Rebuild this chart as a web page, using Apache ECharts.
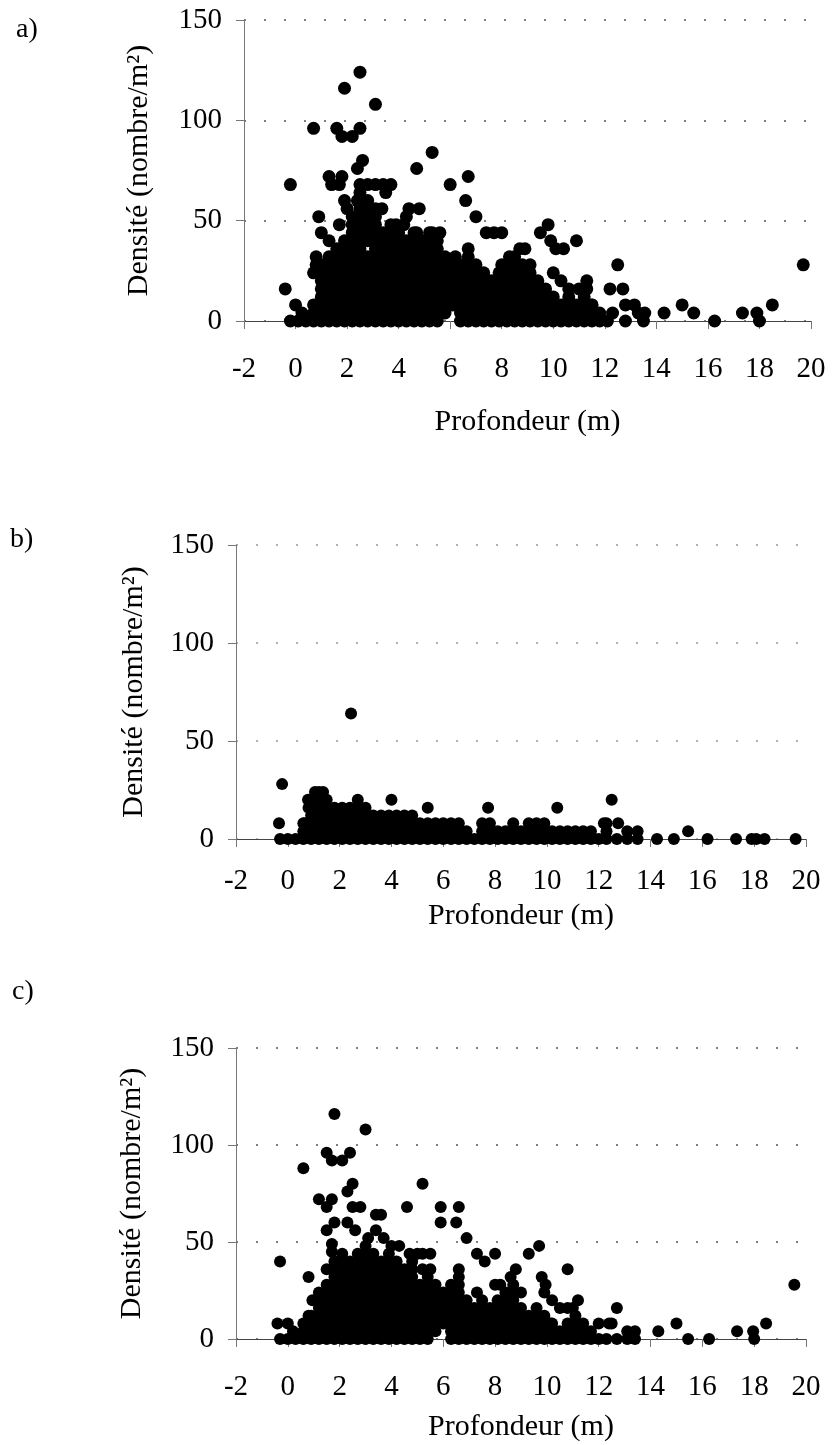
<!DOCTYPE html>
<html>
<head>
<meta charset="utf-8">
<script src="https://cdn.jsdelivr.net/npm/echarts@6/dist/echarts.min.js"></script>
<style>
  html, body { margin: 0; padding: 0; background: #fff; }
  #main { width: 832px; height: 1445px; }
</style>
</head>
<body>
<div id="main"></div>
<script>
// tick labels / axis ranges
var xTicks = [-2, 0, 2, 4, 6, 8, 10, 12, 14, 16, 18, 20];
var yTicks = [0, 50, 100, 150];

// a) dense core: [profondeur, [densités...]]
var colsA = [
    [-0.2, [0]], [0.1, [0]], [0.4, [0]], [0.7, [0, 4, 8]],
    [1.0, [0, 4, 8, 12, 16, 20, 24, 28]],
    [1.3, [0, 4, 8, 12, 16, 20, 24, 28, 32]],
    [1.6, [0, 4, 8, 12, 16, 20, 24, 28, 32, 36]],
    [1.9, [0, 4, 8, 12, 16, 20, 24, 28, 32, 36, 40]],
    [2.2, [0, 4, 8, 12, 16, 20, 24, 28, 32, 36, 40, 44, 48, 52]],
    [2.5, [0, 4, 8, 12, 16, 20, 24, 28, 32, 36, 40, 44, 48, 52, 56]],
    [2.8, [0, 4, 8, 12, 16, 20, 24, 28, 32, 40, 44, 48, 52, 56, 60]],
    [3.1, [0, 4, 8, 12, 16, 20, 24, 28, 32, 36, 40, 44, 48, 52, 56]],
    [3.4, [0, 4, 8, 12, 16, 20, 24, 28, 32, 36, 40, 44]],
    [3.7, [0, 4, 8, 12, 16, 20, 24, 28, 32, 36, 40, 44, 48]],
    [4.0, [0, 4, 8, 12, 16, 20, 24, 28, 32, 36, 44]],
    [4.3, [0, 4, 8, 12, 16, 20, 24, 28, 32, 36, 40]],
    [4.6, [0, 4, 8, 12, 16, 20, 24, 28, 32, 36, 40, 44]],
    [4.9, [0, 4, 8, 12, 16, 20, 24, 28, 32, 36, 40]],
    [5.2, [0, 4, 8, 12, 16, 20, 24, 28, 32, 36, 40, 44]],
    [5.5, [0, 4, 8, 12, 16, 20, 24, 28, 32, 36, 40]],
    [5.8, [4, 8, 12, 16, 20, 24, 28]],
    [6.1, [8, 12, 16, 20, 24, 28]],
    [6.4, [0, 4, 8, 12, 16, 20, 24, 28]],
    [6.7, [0, 4, 8, 12, 16, 20, 24, 28, 32]],
    [7.0, [0, 4, 8, 12, 16, 20, 24]],
    [7.3, [0, 4, 8, 12, 16, 20]],
    [7.6, [0, 4, 8, 12, 16]],
    [7.9, [0, 4, 8, 12, 16, 20, 24]],
    [8.2, [0, 4, 8, 12, 16, 20, 24, 28]],
    [8.5, [0, 4, 8, 12, 16, 20, 24, 28, 32]],
    [8.8, [0, 4, 8, 12, 16, 20, 24, 28]],
    [9.1, [0, 4, 8, 12, 16, 20, 24]],
    [9.4, [0, 4, 8, 12, 16, 20]],
    [9.7, [0, 4, 8, 12, 16]],
    [10.0, [0, 4, 8, 12]],
    [10.3, [0, 4, 8]],
    [10.6, [0, 4, 8, 12]],
    [10.9, [0, 4, 8]],
    [11.2, [0, 4, 8, 12]],
    [11.5, [0, 4, 8]],
    [11.8, [0, 4]],
    [12.1, [0]]
];
// a) scattered points
var extraA = [
    [-0.4, 16], [-0.2, 68], [0.0, 8], [0.25, 4], [0.7, 96], [0.8, 32], [0.8, 28], [0.7, 24],
    [0.8, 8], [0.9, 52], [1.0, 44], [1.3, 40], [1.3, 72], [1.4, 68], [1.6, 96], [1.7, 48],
    [1.7, 68], [1.8, 72], [1.8, 92], [1.9, 116], [1.9, 60], [2.0, 56], [2.2, 92], [2.4, 76],
    [2.5, 96], [2.5, 124], [2.6, 80], [2.5, 68], [2.8, 68], [3.1, 68], [3.4, 68], [3.7, 68],
    [2.5, 64], [3.5, 64], [2.4, 60], [3.1, 108], [3.35, 56], [4.4, 56], [4.8, 56], [4.3, 52],
    [3.9, 48], [4.2, 48], [3.9, 40], [4.7, 44], [4.9, 40], [5.3, 44], [5.6, 44], [4.7, 76],
    [5.3, 84], [6.0, 68], [6.7, 72], [6.6, 60], [7.0, 52], [7.4, 44], [7.7, 44], [8.0, 44],
    [9.5, 44], [9.8, 48], [9.9, 40], [10.1, 36], [10.4, 36], [10.9, 40], [5.8, 32], [6.2, 32],
    [6.7, 36], [7.0, 28], [7.3, 24], [7.6, 20], [8.0, 28], [8.3, 32], [8.7, 36], [8.9, 36],
    [9.1, 28], [10.0, 24], [10.3, 20], [10.6, 16], [11.0, 16], [11.3, 20], [11.3, 16], [11.5, 8],
    [12.3, 4], [12.2, 16], [12.5, 28], [12.7, 16], [12.8, 8], [13.15, 8], [12.8, 0], [13.3, 4],
    [13.55, 4], [13.5, 0], [14.3, 4], [15.0, 8], [15.45, 4], [16.26, 0], [17.34, 4], [17.9, 4],
    [18.0, 0], [18.5, 8], [19.7, 28]
];

// b)
var colsB = [
    [-0.3, [0]], [0.0, [0]], [0.3, [0]], [0.6, [0, 4, 8]],
    [0.9, [0, 4, 8, 12, 16, 20]], [1.2, [0, 4, 8, 12, 16, 20, 24]],
    [1.5, [0, 4, 8, 12, 16, 20]], [1.8, [0, 4, 8, 12, 16]], [2.1, [0, 4, 8, 12, 16]],
    [2.4, [0, 4, 8, 12, 16]], [2.7, [0, 4, 8, 12, 16]], [3.0, [0, 4, 8, 12, 16]],
    [3.3, [0, 4, 8, 12]], [3.6, [0, 4, 8, 12]], [3.9, [0, 4, 8, 12]], [4.2, [0, 4, 8, 12]],
    [4.5, [0, 4, 8, 12]], [4.8, [0, 4, 8, 12]], [5.1, [0, 4, 8]], [5.4, [0, 4, 8]],
    [5.7, [0, 4, 8]], [6.0, [0, 4, 8]], [6.3, [0, 4, 8]], [6.6, [0, 4, 8]], [6.9, [0, 4]],
    [7.2, [0]], [7.5, [0, 4, 8]], [7.8, [0, 4, 8]], [8.1, [0, 4]], [8.4, [0, 4]],
    [8.7, [0, 4, 8]], [9.0, [0, 4]], [9.3, [0, 4, 8]], [9.6, [0, 4, 8]], [9.9, [0, 4, 8]],
    [10.2, [0, 4]], [10.5, [0, 4]], [10.8, [0, 4]], [11.1, [0, 4]], [11.4, [0, 4]],
    [11.7, [0, 4]], [12.0, [0]], [12.3, [0, 4, 8]]
];
var extraB = [
    [-0.34, 8], [-0.22, 28], [0.66, 8], [0.78, 20], [1.05, 24], [1.36, 24], [0.8, 16],
    [2.44, 64], [2.7, 20], [4.0, 20], [5.4, 16], [7.73, 16], [10.4, 16], [12.5, 20],
    [12.2, 8], [12.75, 8], [12.7, 0], [13.1, 4], [13.5, 4], [13.1, 0], [13.5, 0],
    [14.25, 0], [14.9, 0], [15.45, 4], [16.2, 0], [17.3, 0], [17.9, 0], [18.08, 0],
    [18.4, 0], [19.6, 0]
];

// c)
var colsC = [
    [-0.3, [0]], [0.0, [0]], [0.3, [0]], [0.6, [0, 4, 8]], [0.9, [0, 4, 8, 12]],
    [1.2, [0, 4, 8, 12, 16, 20, 24]],
    [1.5, [0, 4, 8, 12, 16, 20, 24, 28]],
    [1.8, [0, 4, 8, 12, 16, 20, 24, 28, 32, 36, 40]],
    [2.1, [0, 4, 8, 12, 16, 20, 24, 28, 32, 36, 40, 44]],
    [2.4, [0, 4, 8, 12, 16, 20, 24, 28, 32, 36, 40]],
    [2.7, [0, 4, 8, 12, 16, 20, 24, 28, 32, 36, 40, 44]],
    [3.0, [0, 4, 8, 12, 16, 20, 24, 28, 32, 36, 40, 44, 48]],
    [3.3, [0, 4, 8, 12, 16, 20, 24, 28, 32, 36, 40, 44]],
    [3.6, [0, 4, 8, 12, 16, 20, 24, 28, 32, 36, 40]],
    [3.9, [0, 4, 8, 12, 16, 20, 24, 28, 32, 36, 40, 44]],
    [4.2, [0, 4, 8, 12, 16, 20, 24, 28, 32, 36, 40]],
    [4.5, [0, 4, 8, 12, 16, 20, 24, 28, 32, 36]],
    [4.8, [0, 4, 8, 12, 16, 20, 24, 28, 32, 36, 40]],
    [5.1, [0, 4, 8, 12, 16, 20, 24, 28]],
    [5.4, [0, 4, 8, 12, 16, 20, 24, 28, 32]],
    [5.7, [4, 8, 12, 16, 20, 24, 28]],
    [6.0, [8, 12, 16, 20, 24]],
    [6.3, [0, 4, 8, 12, 16, 20, 24, 28]],
    [6.6, [0, 4, 8, 12, 16, 20, 24, 28, 32]],
    [6.9, [0, 4, 8, 12, 16, 20]],
    [7.2, [0, 4, 8, 12, 16]],
    [7.5, [0, 4, 8, 12, 16, 20]],
    [7.8, [0, 4, 8, 12, 16]],
    [8.1, [0, 4, 8, 12, 16, 20]],
    [8.4, [0, 4, 8, 12, 16, 20, 24]],
    [8.7, [0, 4, 8, 12, 16, 20, 24, 28]],
    [9.0, [0, 4, 8, 12, 16]],
    [9.3, [0, 4, 8, 12]],
    [9.6, [0, 4, 8, 12, 16]],
    [9.9, [0, 4, 8, 12]],
    [10.2, [0, 4, 8]],
    [10.5, [0, 4]],
    [10.8, [0, 4, 8]],
    [11.1, [0, 4, 8, 12]],
    [11.4, [0, 4, 8]],
    [11.7, [0, 4]],
    [12.0, [0]], [12.3, [0]]
];
var extraC = [
    [-0.4, 8], [-0.3, 40], [0.0, 8], [0.2, 4], [0.6, 88], [0.8, 32], [0.95, 20], [0.8, 12],
    [1.2, 72], [1.5, 96], [1.5, 68], [1.5, 56], [1.5, 36], [1.7, 92], [1.7, 72], [1.7, 49],
    [1.7, 45], [1.8, 116], [1.8, 60], [2.1, 92], [2.3, 76], [2.3, 60], [2.4, 96], [2.5, 80],
    [2.5, 68], [2.6, 56], [2.8, 68], [3.0, 108], [3.1, 52], [3.4, 56], [3.4, 64], [3.6, 64],
    [3.7, 52], [4.0, 48], [4.3, 48], [4.6, 68], [4.7, 44], [5.0, 44], [5.2, 80], [5.2, 44],
    [5.5, 44], [5.2, 36], [5.5, 36], [5.9, 68], [6.6, 68], [5.9, 60], [6.5, 60], [6.9, 52],
    [6.6, 36], [7.3, 44], [7.6, 40], [8.0, 44], [7.3, 24], [8.0, 28], [8.2, 28], [8.6, 32],
    [8.8, 36], [9.0, 24], [9.3, 44], [9.7, 48], [9.8, 32], [9.95, 28], [9.9, 24], [10.2, 20],
    [10.5, 16], [10.8, 36], [10.8, 16], [11.0, 16], [11.2, 20], [10.15, 8], [12.0, 8],
    [12.4, 8], [12.7, 16], [12.5, 8], [12.7, 0], [13.1, 4], [13.4, 4], [13.1, 0], [13.4, 0],
    [14.3, 4], [15.0, 8], [15.45, 0], [16.26, 0], [17.34, 4], [17.96, 4], [18.0, 0],
    [18.46, 8], [19.55, 28]
];

function toPoints(cols, extra) {
    var pts = [];
    cols.forEach(function (c) {
        c[1].forEach(function (v) { pts.push([c[0], v]); });
    });
    return pts.concat(extra);
}

var font = 'Liberation Serif';
var grids = [
    { left: 244, right: 21, top: 20, height: 301 },
    { left: 236, right: 26, top: 545, height: 294 },
    { left: 236, right: 26, top: 1048, height: 291 }
];
var xNameGap = [86, 62, 73];
var xLabelMargin = [34, 28, 34];
var yNameGap = [90, 87, 89];
var gridColor = ['#555', '#999', '#555'];
var dotSize = [13, 12, 12];

var chartDom = document.getElementById('main');
var myChart = echarts.init(chartDom);

var option = {
    animation: false,
    textStyle: { fontFamily: font },
    grid: grids,
    xAxis: [0, 1, 2].map(function (i) {
        return {
            gridIndex: i,
            type: 'value',
            min: xTicks[0],
            max: xTicks[xTicks.length - 1],
            interval: 2,
            name: 'Profondeur (m)',
            nameLocation: 'middle',
            nameGap: xNameGap[i],
            nameTextStyle: { fontFamily: font, fontSize: 30, color: '#000' },
            axisLine: { onZero: false, lineStyle: { color: '#444', width: 1 } },
            axisTick: { show: true, inside: false, length: 8, lineStyle: { color: '#777' } },
            axisLabel: { fontFamily: font, fontSize: 29, color: '#000', margin: xLabelMargin[i] },
            splitLine: { show: false }
        };
    }),
    yAxis: [0, 1, 2].map(function (i) {
        return {
            gridIndex: i,
            type: 'value',
            min: yTicks[0],
            max: yTicks[yTicks.length - 1],
            interval: 50,
            name: 'Densité (nombre/m²)',
            nameLocation: 'middle',
            nameRotate: 90,
            nameGap: yNameGap[i],
            nameTextStyle: { fontFamily: font, fontSize: 30, color: '#000' },
            axisLine: { show: true, onZero: false, lineStyle: { color: '#777', width: 1 } },
            axisTick: { show: true, inside: false, length: 8, lineStyle: { color: '#777' } },
            axisLabel: { fontFamily: font, fontSize: 29, color: '#000', margin: 22 },
            splitLine: { show: true, lineStyle: { color: gridColor[i], width: 1.5, type: [2, 18] } }
        };
    }),
    graphic: [
        { type: 'text', left: 16, top: 16, style: { text: 'a)', font: '28px "Liberation Serif"', fill: '#000' } },
        { type: 'text', left: 10, top: 526, style: { text: 'b)', font: '28px "Liberation Serif"', fill: '#000' } },
        { type: 'text', left: 12, top: 978, style: { text: 'c)', font: '28px "Liberation Serif"', fill: '#000' } }
    ],
    series: [
        { type: 'scatter', xAxisIndex: 0, yAxisIndex: 0, symbolSize: dotSize[0], itemStyle: { color: '#000', opacity: 1 }, data: toPoints(colsA, extraA) },
        { type: 'scatter', xAxisIndex: 1, yAxisIndex: 1, symbolSize: dotSize[1], itemStyle: { color: '#000', opacity: 1 }, data: toPoints(colsB, extraB) },
        { type: 'scatter', xAxisIndex: 2, yAxisIndex: 2, symbolSize: dotSize[2], itemStyle: { color: '#000', opacity: 1 }, data: toPoints(colsC, extraC) }
    ]
};

option && myChart.setOption(option);
</script>
</body>
</html>
